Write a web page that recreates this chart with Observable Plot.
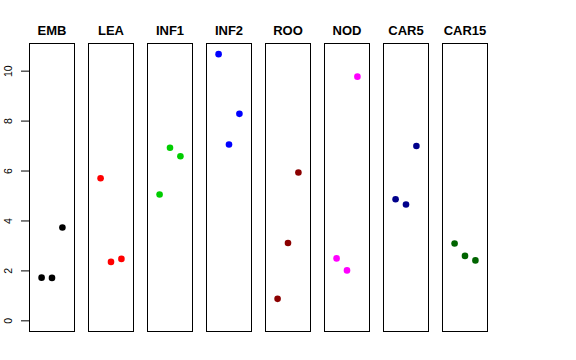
<!DOCTYPE html>
<html>
<head>
<meta charset="utf-8">
<script src="https://cdn.jsdelivr.net/npm/d3@7"></script>
<script src="https://cdn.jsdelivr.net/npm/@observablehq/plot@0.6"></script>
<style>
  html, body { margin: 0; padding: 0; background: white; }
</style>
</head>
<body>
<div id="chart"></div>
<script>
const panels = ["EMB", "LEA", "INF1", "INF2", "ROO", "NOD", "CAR5", "CAR15"];
const panelColors = ["black", "red", "#00CD00", "blue", "#8B0000", "magenta", "#00008B", "#006400"];
const xIndex = [1, 2, 3];
const EMB = [1.73, 1.72, 3.74];
const LEA = [5.71, 2.36, 2.48];
const INF1 = [5.06, 6.93, 6.59];
const INF2 = [10.68, 7.06, 8.29];
const ROO = [0.88, 3.12, 5.94];
const NOD = [2.50, 2.02, 9.78];
const CAR5 = [4.87, 4.66, 7.00];
const CAR15 = [3.10, 2.60, 2.42];
const yTicks = [0, 2, 4, 6, 8, 10];

const series = {EMB, LEA, INF1, INF2, ROO, NOD, CAR5, CAR15};
const data = panels.flatMap(p => series[p].map((v, i) => ({panel: p, x: xIndex[i], y: v})));

// R-style 4% axis extension
const ymin = 0, ymax = d3.max(data, d => d.y);
const yr = ymax - ymin;
const xmin = 0, xmax = 4;
const xr = xmax - xmin;

const chart = Plot.plot({
  width: 576,
  height: 360,
  marginLeft: 28.7,
  marginRight: 88,
  marginTop: 43,
  marginBottom: 29,
  style: {fontFamily: "Liberation Sans, Arial, Helvetica, sans-serif", background: "white", color: "black"},
  fx: {domain: panels, paddingInner: 0.24, paddingOuter: 0, align: 0, axis: null},
  x: {domain: [xmin - 0.04 * xr, xmax + 0.04 * xr], axis: null},
  y: {domain: [ymin - 0.04 * yr, ymax + 0.04 * yr], axis: null},
  color: {domain: panels, range: panelColors},
  marks: [
    Plot.frame({stroke: "black", strokeWidth: 1}),
    Plot.dot(data, {fx: "panel", x: "x", y: "y", fill: "panel", r: 3.3}),
    Plot.axisY({ticks: yTicks, tickSize: 8, text: null, label: null, strokeOpacity: 1, stroke: "black"}),
    Plot.axisY({ticks: yTicks, tickSize: 0, tickPadding: 21, label: null, rotate: -90, textAnchor: "middle", fontSize: 10.5}),
    Plot.axisFx({anchor: "top", tickSize: 0, tickPadding: 9, label: null, fontSize: 13, fontWeight: "bold"})
  ]
});
document.getElementById("chart").appendChild(chart);
</script>
</body>
</html>
